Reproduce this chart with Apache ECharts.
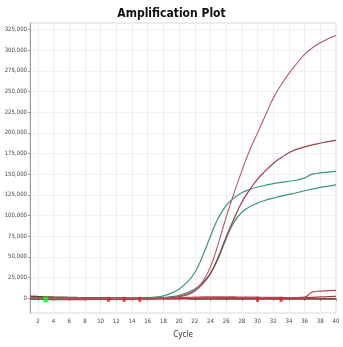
<!DOCTYPE html>
<html>
<head>
<meta charset="utf-8">
<script src="https://cdn.jsdelivr.net/npm/echarts@6/dist/echarts.min.js"></script>
<style>
  html, body { margin: 0; padding: 0; background: #fff; }
  #chart { width: 343px; height: 347px; }
</style>
</head>
<body>
<div id="chart"></div>
<script>
var cycles = [1, 2, 3, 4, 5, 6, 7, 8, 9, 10, 11, 12, 13, 14, 15, 16, 17, 18, 19, 20,
  21, 22, 23, 24, 25, 26, 27, 28, 29, 30, 31, 32, 33, 34, 35, 36, 37, 38, 39, 40]

var redHigh = [900, 500, 300, 200, 100, 0, -100, -100, -200, -200, -300, -300, -300, -200, -200, -100, 0, 500, 1000, 2500,
  5000, 10000, 20000, 38000, 66000, 98000, 127000, 154000, 179000, 200000,
  221000, 242000, 258000, 272000, 284000, 295000, 303000, 309000, 314000, 318000]
var redMid = [1200, 800, 500, 300, 200, 100, 0, -100, -100, -200, -200, -300, -300, -300, -200, -100, 0, 300, 800, 2000,
  4000, 8500, 17000, 30000, 50000, 74000, 96000, 116000, 131000, 144000,
  154000, 163000, 170000, 176000, 180000, 183000, 185500, 187500, 189500, 191000]
var greenHigh = [600, 400, 200, 100, 0, 0, -100, -100, -200, -200, -200, -200, -100, -100, 0, 500, 1200, 2800, 6000, 11000,
  19000, 31000, 51000, 75000, 97000, 112000, 121000, 127500, 131500, 134500,
  136500, 138500, 140000, 141500, 143000, 145500, 150000, 151500, 152500, 153500]
var greenLow = [700, 400, 200, 100, 0, 0, -100, -100, -200, -200, -200, -300, -300, -200, -100, 0, 300, 800, 1800, 3500,
  6500, 11000, 18500, 30000, 48000, 72000, 92000, 104000, 110500, 115000,
  118500, 121000, 123500, 125500, 127500, 130000, 132000, 134000, 135500, 137000]
var redFlatA = [-800, -900, -1000, -1000, -1100, -1100, -1000, -1000, -1000, -900, -900, -800, -800, -700, -600, -500, -300, 0, 300, 600,
  900, 1200, 1400, 1500, 1500, 1500, 1400, 1300, 1200, 1100,
  1000, 900, 800, 700, 700, 1200, 7500, 8500, 9000, 9300]
var redFlatB = [-1500, -1600, -1700, -1700, -1800, -1800, -1700, -1700, -1600, -1600, -1500, -1500, -1400, -1400, -1300, -1200, -1100, -900, -700, -500,
  -300, 0, 200, 400, 500, 500, 500, 400, 300, 200,
  100, 0, 0, 100, 300, 600, 1000, 1400, 1800, 2100]
var brownBase = [2200, 1800, 1500, 1200, 1000, 800, 600, 500, 400, 300, 200, 100, 0, -100, -200, -300, -400, -500, -600, -700,
  -800, -900, -1000, -1000, -1000, -1000, -1000, -1000, -1000, -1000,
  -1000, -1000, -1000, -1000, -1000, -1000, -1000, -1000, -1000, -1000]

var greenMarkCycles = [3]
var redMarkCycles = [11, 13, 15, 30, 33]
var markValue = -1500

var yTicks = [0, 25000, 50000, 75000, 100000, 125000, 150000, 175000, 200000, 225000, 250000, 275000, 300000, 325000]
var xTicks = [2, 4, 6, 8, 10, 12, 14, 16, 18, 20, 22, 24, 26, 28, 30, 32, 34, 36, 38, 40]

function pairs(vals) {
  return cycles.map(function (c, i) { return [c, vals[i]] })
}
function marks(cs) {
  return cs.map(function (c) { return [c, markValue] })
}
function curve(vals, color, width) {
  return {
    type: 'line',
    data: pairs(vals),
    smooth: true,
    symbol: 'none',
    lineStyle: { color: color, width: width || 1.2 },
    z: 3
  }
}

var narrow = '"Liberation Sans Narrow", "DejaVu Sans Condensed", sans-serif'

var chart = echarts.init(document.getElementById('chart'))
chart.setOption({
  animation: false,
  title: {
    text: 'Amplification Plot',
    left: 'center',
    top: 3,
    textStyle: {
      fontFamily: '"DejaVu Sans Condensed", sans-serif',
      fontSize: 12,
      fontWeight: 'bold',
      color: '#111'
    }
  },
  grid: {
    left: 30, right: 7, top: 23, bottom: 34,
    outerBoundsMode: 'none',
    containLabel: false,
    show: true,
    borderColor: '#d8d8d8',
    borderWidth: 1
  },
  xAxis: {
    type: 'value',
    min: 1,
    max: 40,
    name: 'Cycle',
    nameLocation: 'middle',
    nameGap: 18,
    nameTextStyle: { fontFamily: narrow, fontSize: 8, color: '#333' },
    axisLine: { show: true, lineStyle: { color: '#999' } },
    axisTick: { show: true, length: 3, lineStyle: { color: '#999' }, customValues: xTicks },
    axisLabel: {
      customValues: xTicks,
      fontFamily: narrow,
      fontSize: 6,
      color: '#444',
      margin: 5
    },
    splitLine: { show: true, lineStyle: { color: '#efefef', width: 1 } }
  },
  yAxis: {
    type: 'value',
    min: -18000,
    max: 333000,
    name: 'ΔRn',
    nameLocation: 'middle',
    nameGap: 22,
    nameTextStyle: { fontFamily: narrow, fontSize: 8, color: '#555' },
    axisLine: { show: true, lineStyle: { color: '#999' } },
    axisTick: { show: true, length: 2, lineStyle: { color: '#999' }, customValues: yTicks },
    axisLabel: {
      customValues: yTicks,
      fontFamily: narrow,
      fontSize: 6,
      color: '#444',
      margin: 3,
      formatter: function (v) { return v.toLocaleString('en-US') }
    },
    splitLine: { show: true, lineStyle: { color: '#efefef', width: 1 } }
  },
  series: [
    curve(brownBase, '#6e3b2c', 1.6),
    curve(redFlatB, '#b83434', 1.2),
    curve(redFlatA, '#b9485a', 1.2),
    curve(greenLow, '#3a9677', 1.2),
    curve(greenHigh, '#3a9677', 1.2),
    curve(redMid, '#9a3e4a', 1.2),
    curve(redHigh, '#b25868', 1.1),
    {
      type: 'scatter',
      data: marks(greenMarkCycles),
      symbol: 'rect',
      symbolSize: [5, 6],
      itemStyle: { color: '#33dd33' },
      z: 5
    },
    {
      type: 'scatter',
      data: marks(redMarkCycles),
      symbol: 'rect',
      symbolSize: [3, 5],
      itemStyle: { color: '#dd1e1e' },
      z: 5
    }
  ]
})
</script>
</body>
</html>
